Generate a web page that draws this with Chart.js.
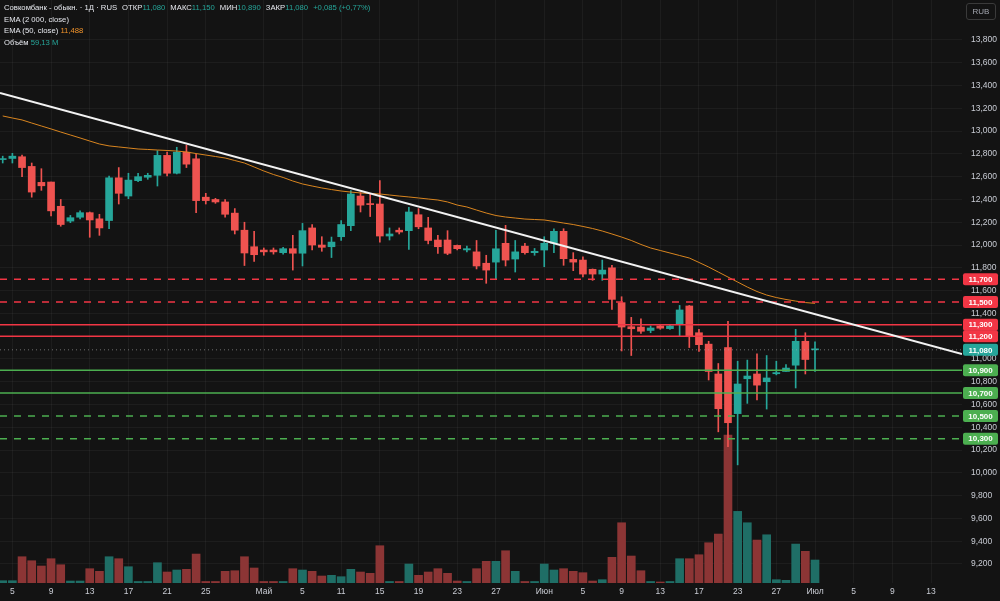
<!DOCTYPE html>
<html lang="ru">
<head>
<meta charset="utf-8">
<title>Совкомбанк - обыкн. · 1Д</title>
<script src="https://cdn.jsdelivr.net/npm/chart.js@4.4.1/dist/chart.umd.min.js"></script>
<style>
  html, body { margin: 0; padding: 0; background: #131313; }
  #wrap { position: relative; width: 1000px; height: 601px; }
  #legend { position: absolute; left: 4px; top: 2px; font-family: "Liberation Sans", Arial, sans-serif; font-size: 7.7px; color: #e6e8ee; line-height: 11.7px; white-space: nowrap; }
  #legend .up { color: #26a69a; }
  #legend .ema { color: #f0932b; }
  #legend .gap { margin-left: 5px; }
  #rub { position: absolute; left: 966px; top: 3px; width: 28px; height: 15px; border: 1px solid #3a3a3a; border-radius: 3px; color: #a3a6af; font: 8px "Liberation Sans", Arial, sans-serif; line-height: 15px; text-align: center; }
</style>
</head>
<body>
<div id="wrap">
  <canvas id="myChart" width="1000" height="601"></canvas>
  <div id="legend">
    <div>Совкомбанк - обыкн. · 1Д · RUS<span class="gap">ОТКР</span><span class="up">11,080</span><span class="gap">МАКС</span><span class="up">11,150</span><span class="gap">МИН</span><span class="up">10,890</span><span class="gap">ЗАКР</span><span class="up">11,080</span><span class="gap up">+0,085 (+0,77%)</span></div>
    <div>EMA (2 000, close)</div>
    <div>EMA (50, close) <span class="ema">11,488</span></div>
    <div>Объём <span class="up">59,13 M</span></div>
  </div>
  <div id="rub">RUB</div>
</div>
<script>
// daily candles, index 0 = first visible bar
const opens = [12.75, 12.76, 12.775, 12.69, 12.55, 12.553, 12.34, 12.21, 12.244, 12.284,
  12.23, 12.215, 12.59, 12.43, 12.565, 12.595, 12.612, 12.787, 12.63, 12.815,
  12.757, 12.42, 12.40, 12.378, 12.28, 12.13, 11.985, 11.956, 11.956, 11.933,
  11.968, 11.928, 12.15, 12.0, 11.985, 12.073, 12.17, 12.43, 12.36, 12.36,
  12.079, 12.13, 12.126, 12.266, 12.15, 12.044, 12.044, 11.997, 11.957, 11.94,
  11.84, 11.85, 12.015, 11.877, 11.99, 11.933, 11.956, 12.015, 12.12, 11.874,
  11.868, 11.787, 11.745, 11.80, 11.494, 11.283, 11.28, 11.25, 11.29, 11.266,
  11.306, 11.465, 11.23, 11.13, 10.868, 11.10, 10.52, 10.826, 10.868, 10.80,
  10.87, 10.89, 10.945, 11.155, 11.08];
const highs = [12.78, 12.805, 12.79, 12.72, 12.67, 12.553, 12.40, 12.26, 12.30, 12.29,
  12.27, 12.606, 12.68, 12.63, 12.63, 12.63, 12.828, 12.815, 12.858, 12.875,
  12.80, 12.454, 12.41, 12.40, 12.32, 12.20, 12.12, 11.974, 11.974, 11.98,
  12.085, 12.19, 12.18, 12.073, 12.07, 12.214, 12.477, 12.46, 12.454, 12.565,
  12.15, 12.15, 12.33, 12.32, 12.243, 12.085, 12.126, 12.0, 11.99, 12.04,
  11.91, 12.13, 12.173, 12.04, 12.015, 11.97, 12.073, 12.143, 12.143, 11.933,
  11.897, 11.79, 11.868, 11.822, 11.546, 11.365, 11.353, 11.29, 11.30, 11.30,
  11.47, 11.47, 11.26, 11.155, 10.96, 11.33, 10.98, 10.99, 11.044, 11.03,
  10.98, 10.95, 11.26, 11.23, 11.15];
const lows = [12.72, 12.72, 12.60, 12.42, 12.48, 12.255, 12.165, 12.196, 12.23, 12.068,
  12.085, 12.144, 12.36, 12.407, 12.556, 12.577, 12.518, 12.606, 12.624, 12.68,
  12.284, 12.36, 12.366, 12.244, 12.097, 11.82, 11.857, 11.91, 11.92, 11.92,
  11.78, 11.816, 11.957, 11.945, 11.89, 12.04, 12.126, 12.29, 12.25, 12.026,
  12.044, 12.097, 11.962, 12.143, 12.01, 11.927, 11.915, 11.957, 11.94, 11.79,
  11.664, 11.70, 11.816, 11.763, 11.92, 11.91, 11.81, 11.933, 11.822, 11.775,
  11.72, 11.69, 11.69, 11.435, 11.07, 11.03, 11.225, 11.23, 11.26, 11.26,
  11.20, 11.10, 11.067, 10.815, 10.36, 10.23, 10.07, 10.61, 10.64, 10.56,
  10.86, 10.89, 10.745, 10.868, 10.89];
const closes = [12.75, 12.78, 12.68, 12.465, 12.52, 12.30, 12.18, 12.24, 12.284, 12.22,
  12.15, 12.59, 12.454, 12.57, 12.60, 12.612, 12.787, 12.63, 12.815, 12.71,
  12.39, 12.39, 12.378, 12.27, 12.13, 11.93, 11.915, 11.94, 11.94, 11.968,
  11.928, 12.126, 12.0, 11.98, 12.026, 12.18, 12.448, 12.35, 12.355, 12.079,
  12.097, 12.114, 12.29, 12.16, 12.04, 11.985, 11.927, 11.968, 11.968, 11.816,
  11.78, 11.967, 11.868, 11.94, 11.933, 11.945, 12.015, 12.12, 11.88, 11.85,
  11.745, 11.745, 11.78, 11.523, 11.28, 11.265, 11.243, 11.272, 11.27, 11.29,
  11.43, 11.195, 11.125, 10.89, 10.563, 10.44, 10.78, 10.85, 10.77, 10.833,
  10.88, 10.92, 11.155, 10.995, 11.08];
// volume, millions of shares
const volumes = [5.9, 5.9, 67.6, 57.3, 43.7, 62.5, 47.0, 5.1, 5.1, 36.8,
  30.1, 67.6, 62.5, 41.9, 3.9, 3.9, 52.2, 28.3, 33.4, 35.2,
  74.5, 3.9, 3.9, 30.1, 31.6, 67.6, 38.6, 3.9, 3.9, 3.9,
  36.8, 33.4, 30.1, 18.0, 19.8, 16.2, 35.2, 28.3, 24.9, 95.9,
  3.9, 3.9, 48.8, 19.8, 28.3, 36.8, 24.9, 5.1, 3.9, 36.8,
  55.8, 55.8, 83.0, 30.1, 3.9, 3.9, 48.8, 33.4, 36.8, 30.1,
  26.5, 5.1, 8.5, 66.0, 155.0, 69.4, 31.6, 3.9, 2.6, 3.9,
  62.5, 62.5, 72.7, 103.6, 125.9, 380.4, 184.3, 155.0, 110.5, 124.1,
  8.5, 6.9, 100.2, 81.5, 59.13];
const ema50 = [13.133, 13.115, 13.098, 13.071, 13.045, 13.019, 12.992, 12.966, 12.940, 12.913,
  12.887, 12.870, 12.861, 12.852, 12.843, 12.839, 12.834, 12.830, 12.825, 12.817,
  12.803, 12.790, 12.777, 12.764, 12.742, 12.720, 12.685, 12.650, 12.619, 12.593,
  12.562, 12.536, 12.518, 12.501, 12.487, 12.474, 12.465, 12.457, 12.452, 12.448,
  12.439, 12.430, 12.422, 12.413, 12.404, 12.395, 12.378, 12.351, 12.334, 12.307,
  12.281, 12.259, 12.246, 12.237, 12.228, 12.224, 12.220, 12.207, 12.193, 12.180,
  12.163, 12.145, 12.123, 12.097, 12.070, 12.040, 12.005, 11.974, 11.952, 11.930,
  11.908, 11.886, 11.847, 11.807, 11.763, 11.719, 11.675, 11.631, 11.592, 11.561,
  11.539, 11.522, 11.508, 11.495, 11.488];

const tickIdx = [1, 5, 9, 13, 17, 21, 27, 31, 35, 39, 43, 47, 51, 56, 60, 64, 68, 72, 76, 80, 84, 88, 92, 96];
const tickText = ["5", "9", "13", "17", "21", "25", "Май", "5", "11", "15", "19", "23", "27", "Июн", "5", "9", "13", "17", "23", "27", "Июл", "5", "9", "13"];
const priceTicks = [13.8, 13.6, 13.4, 13.2, 13.0, 12.8, 12.6, 12.4, 12.2, 12.0, 11.8, 11.6, 11.4, 11.2, 11.0, 10.8, 10.6, 10.4, 10.2, 10.0, 9.8, 9.6, 9.4, 9.2];

// trend line drawn by hand on the chart
const trendX = [-0.28, 99.2];
const trendY = [13.335, 11.043];
const resistance = [11.7, 11.5, 11.3, 11.2];
const support = [10.9, 10.7, 10.5, 10.3];
const dashedLevels = [11.7, 11.5, 10.5, 10.3];

const xMin = -0.28, xMax = 99.2;
const UP = "#26a69a", DOWN = "#ef5350";
const lastClose = closes[closes.length - 1];

const fmt = (v) => v.toFixed(3).replace(".", ",");

const idx = closes.map((c, i) => i);
const isUp = idx.map((i) => closes[i] >= opens[i]);

const levelLine = (v, color) => ({
  type: "line",
  data: [{ x: xMin, y: v }, { x: xMax, y: v }],
  borderColor: color,
  borderWidth: 1.5,
  borderDash: dashedLevels.includes(v) ? [7, 7] : [],
  pointRadius: 0,
  order: 0,
});

const datasets = [
  {
    label: "trend",
    type: "line",
    data: trendX.map((x, i) => ({ x: x, y: trendY[i] })),
    borderColor: "#f2f2f2",
    borderWidth: 2,
    pointRadius: 0,
    order: 0,
  },
  ...resistance.map((v) => levelLine(v, "#f23645")),
  ...support.map((v) => levelLine(v, "#4caf50")),
  {
    label: "last",
    type: "line",
    data: [{ x: xMin, y: lastClose }, { x: xMax, y: lastClose }],
    borderColor: "rgba(170,170,170,0.6)",
    borderWidth: 1,
    borderDash: [1, 3],
    pointRadius: 0,
    order: 0,
  },
  {
    label: "EMA 50",
    type: "line",
    data: ema50.map((v, i) => ({ x: i, y: v })),
    borderColor: "#d9851f",
    borderWidth: 1,
    pointRadius: 0,
    order: 1,
  },
  {
    label: "body",
    data: idx.map((i) => ({ x: i, y: [opens[i], closes[i]] })),
    backgroundColor: idx.map((i) => (isUp[i] ? UP : DOWN)),
    barThickness: 7,
    minBarLength: 1,
    grouped: false,
    order: 2,
  },
  {
    label: "wick",
    data: idx.map((i) => ({ x: i, y: [lows[i], highs[i]] })),
    backgroundColor: idx.map((i) => (isUp[i] ? UP : DOWN)),
    barThickness: 1,
    grouped: false,
    order: 3,
  },
  {
    label: "volume",
    data: idx.map((i) => ({ x: i, y: volumes[i] })),
    backgroundColor: idx.map((i) => (isUp[i] ? "#1f6e66" : "#8c3535")),
    barThickness: 8,
    grouped: false,
    yAxisID: "yVol",
    order: 4,
  },
];

// colored price tags on the right axis
const badges = [
  ...resistance.map((v) => ({ v: v, color: "#f23645" })),
  ...support.map((v) => ({ v: v, color: "#4caf50" })),
  { v: lastClose, color: UP },
];

const bgPlugin = {
  id: "bg",
  beforeDraw(chart) {
    const ctx = chart.ctx;
    ctx.save();
    ctx.fillStyle = "#131313";
    ctx.fillRect(0, 0, chart.width, chart.height);
    ctx.restore();
  },
};

const badgePlugin = {
  id: "badges",
  afterDraw(chart) {
    const ctx = chart.ctx;
    const y = chart.scales.y;
    ctx.save();
    ctx.font = "bold 8px 'Liberation Sans', Arial, sans-serif";
    ctx.textAlign = "center";
    ctx.textBaseline = "middle";
    badges.forEach((b) => {
      const py = y.getPixelForValue(b.v);
      ctx.fillStyle = b.color;
      ctx.beginPath();
      ctx.roundRect(y.left + 1, py - 6, 35, 12, 2);
      ctx.fill();
      ctx.fillStyle = "#ffffff";
      ctx.fillText(fmt(b.v), y.left + 18.5, py + 0.5);
    });
    ctx.restore();
  },
};

const ctx = document.getElementById("myChart").getContext("2d");
const myChart = new Chart(ctx, {
  type: "bar",
  data: { datasets: datasets },
  plugins: [bgPlugin, badgePlugin],
  options: {
    responsive: false,
    animation: false,
    layout: { padding: 0 },
    plugins: { legend: { display: false }, tooltip: { enabled: false } },
    scales: {
      x: {
        type: "linear",
        min: xMin,
        max: xMax,
        offset: false,
        afterBuildTicks: (scale) => {
          scale.ticks = tickIdx.map((v) => ({ value: v }));
        },
        afterFit: (scale) => {
          scale.height = 18;
        },
        ticks: {
          autoSkip: false,
          maxRotation: 0,
          padding: 4,
          color: "#c9ccd4",
          font: { family: "'Liberation Sans', Arial, sans-serif", size: 8.5 },
          callback: (v) => tickText[tickIdx.indexOf(v)] ?? "",
        },
        grid: { color: "rgba(255,255,255,0.045)", drawTicks: false, offset: false },
        border: { display: false },
      },
      y: {
        type: "linear",
        position: "right",
        min: 9.033,
        max: 14.151,
        afterBuildTicks: (scale) => {
          scale.ticks = priceTicks.map((v) => ({ value: v }));
        },
        afterFit: (scale) => {
          scale.width = 38;
          scale.paddingTop = 0;
          scale.paddingBottom = 0;
        },
        ticks: {
          padding: 0,
          color: "#c9ccd4",
          font: { family: "'Liberation Sans', Arial, sans-serif", size: 8.5 },
          callback: (v) => fmt(v),
        },
        grid: { color: "rgba(255,255,255,0.045)", drawTicks: true, tickLength: 9, tickColor: "rgba(0,0,0,0)" },
        border: { display: false },
      },
      yVol: {
        type: "linear",
        display: false,
        min: 0,
        max: 1500,
      },
    },
  },
});
</script>
</body>
</html>
